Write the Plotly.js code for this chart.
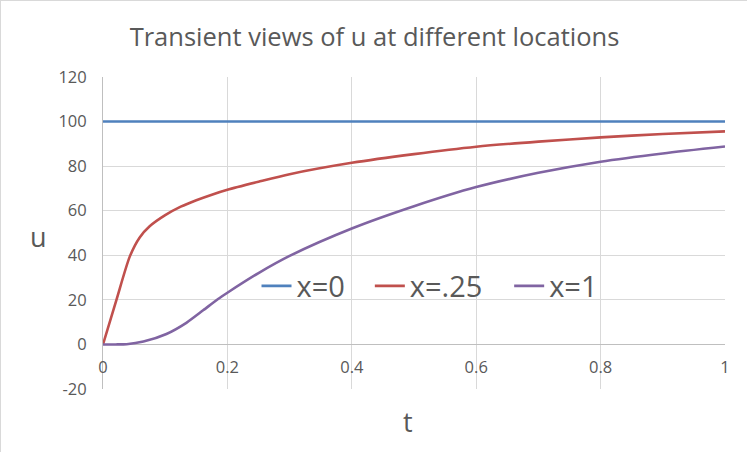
<!DOCTYPE html>
<html><head><meta charset="utf-8">
<script src="https://cdn.plot.ly/plotly-3.0.1.min.js"></script>
<style>html,body{margin:0;padding:0;background:#fff}#c{width:745px;height:450px;border:1px solid #d9d9d9}</style>
</head><body><div id="c"></div>
<script>
const seriesNames = ["x=0", "x=.25", "x=1"];
const seriesColors = ["#4f81bd", "#c0504d", "#8064a2"];
const tBlue = [0, 0.2, 0.4, 0.6, 0.8, 1.0];
const uBlue = [100, 100, 100, 100, 100, 100];
const tRed = [0, 0.0215, 0.043, 0.059, 0.075, 0.1, 0.125, 0.15, 0.175, 0.2, 0.25, 0.3, 0.4, 0.5, 0.6, 0.7, 0.8, 0.9, 1.0];
const uRed = [0, 19.9, 39.4, 48.0, 53.0, 58.0, 61.8, 64.7, 67.2, 69.4, 73.0, 76.4, 81.5, 85.4, 88.7, 91.0, 92.9, 94.4, 95.6];
const tPurple = [0, 0.02, 0.038, 0.065, 0.102, 0.134, 0.161, 0.185, 0.2, 0.25, 0.3, 0.4, 0.5, 0.6, 0.7, 0.8, 0.9, 1.0];
const uPurple = [0, 0, 0.1, 1.3, 4.7, 9.7, 15.3, 20.4, 23.2, 32.0, 39.7, 52.0, 62.0, 70.6, 77.0, 82.0, 85.7, 88.8];
const xTicks = [0, 0.2, 0.4, 0.6, 0.8, 1];
const yTicks = [-20, 0, 20, 40, 60, 80, 100, 120];
const chartTitle = "Transient views of u at different locations";
const xTitle = "t", yTitle = "u";

const F = "Open Sans, Lato, sans-serif";
const grey = "#595959";
const xs = [tBlue, tRed, tPurple], ys = [uBlue, uRed, uPurple];
const legendIds = ["legend", "legend2", "legend3"];
const legendX = [0.2468, 0.429, 0.653];
const data = seriesNames.map((n, i) => ({
  x: xs[i], y: ys[i], name: n, type: "scatter", mode: "lines", legend: legendIds[i],
  line: {color: seriesColors[i], width: 2.6, shape: i === 0 ? "linear" : "spline", smoothing: 0.7}
}));
const yMin = -20, yMax = 120;
const layout = {
  width: 747, height: 452,
  margin: {l: 102, r: 23, t: 76, b: 64, pad: 0},
  paper_bgcolor: "#fff", plot_bgcolor: "#fff",
  font: {family: F, color: grey, size: 16},
  title: {text: chartTitle, font: {family: F, size: 25.5, color: grey}, x: 0.5, xref: "container", y: 1 - 36/450, yref: "container", yanchor: "middle", xanchor: "center"},
  xaxis: {range: [0, 1], tickvals: xTicks, ticktext: xTicks.map(String), showgrid: true, gridcolor: "#d9d9d9", gridwidth: 1,
    zeroline: false, showline: false, anchor: "free", position: (0 - yMin)/(yMax - yMin), ticks: "", ticklabelstandoff: 11,
    tickfont: {family: F, size: 16.5, color: grey}, fixedrange: true},
  yaxis: {range: [yMin, yMax], tickvals: yTicks, ticktext: yTicks.map(String), showgrid: true, gridcolor: "#d9d9d9", gridwidth: 1,
    zeroline: true, zerolinecolor: "#bfbfbf", zerolinewidth: 1, showline: true, linecolor: "#bfbfbf", linewidth: 1,
    ticks: "", ticklabelstandoff: 12, tickfont: {family: F, size: 16.5, color: grey}, fixedrange: true},
  showlegend: true,
  annotations: [
    {text: yTitle, xref: "paper", yref: "paper", x: (39 - 103)/620, y: 1 - (235 - 77)/310, showarrow: false, xanchor: "center", yanchor: "middle", font: {family: F, size: 27, color: grey}},
    {text: xTitle, xref: "paper", yref: "paper", x: (407 - 103)/620, y: 1 - (419 - 77)/310, showarrow: false, xanchor: "center", yanchor: "middle", font: {family: F, size: 27, color: grey}}
  ]
};
legendIds.forEach((id, i) => {
  layout[id] = {orientation: "h", x: legendX[i], xanchor: "left", y: 0.33, yanchor: "middle", bgcolor: "rgba(0,0,0,0)",
    font: {family: F, size: 29, color: grey}, itemwidth: 30};
});
Plotly.newPlot("c", data, layout, {displayModeBar: false, staticPlot: true});
</script></body></html>
